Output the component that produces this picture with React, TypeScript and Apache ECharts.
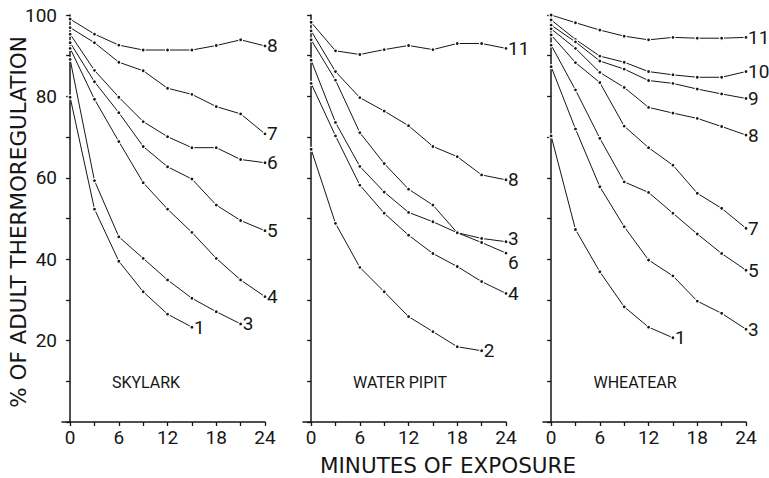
import React, { useEffect, useRef } from "react";
import * as echarts from "echarts";

// Minutes of exposure at which readings were taken
const minutes = [0, 3, 6, 9, 12, 15, 18, 21, 24];

// SKYLARK (curve label = age in days)
const sk8 = [99.0, 95.3, 92.6, 91.4, 91.4, 91.4, 92.5, 93.9, 92.4];
const sk7 = [96.9, 93.2, 88.4, 86.3, 82.0, 80.5, 77.5, 75.7, 70.8];
const sk6 = [95.3, 86.4, 79.8, 73.8, 70.1, 67.4, 67.4, 64.5, 63.7];
const sk5 = [93.2, 83.6, 76.0, 67.7, 62.7, 59.7, 53.3, 49.5, 47.0];
const sk4 = [91.8, 79.3, 68.9, 58.8, 52.3, 46.6, 40.2, 34.9, 30.8];
const sk3 = [89.1, 59.3, 45.5, 40.2, 34.9, 30.4, 27.1, 24.1];
const sk1 = [79.8, 52.3, 39.5, 32.0, 26.5, 23.3];

// WATER PIPIT
const wp11 = [98.2, 91.2, 90.3, 91.5, 92.5, 91.5, 93.0, 93.0, 91.8];
const wp8 = [96.1, 86.1, 79.7, 76.4, 72.8, 67.7, 65.2, 60.7, 59.5];
const wp6 = [93.9, 84.0, 71.1, 63.5, 57.2, 53.3, 46.5, 44.1, 41.5];
const wp3 = [88.9, 73.6, 62.8, 56.5, 51.5, 49.2, 46.5, 45.1, 44.3];
const wp4 = [83.2, 70.3, 58.2, 51.3, 45.9, 41.4, 38.2, 34.5, 31.6];
const wp2 = [67.0, 48.8, 38.0, 32.0, 25.9, 22.2, 18.5, 17.5];

// WHEATEAR
const wh11 = [100, 98.1, 96.3, 94.8, 93.9, 94.5, 94.3, 94.3, 94.5];
const wh10 = [98.8, 94.0, 89.9, 88.4, 86.1, 85.3, 84.7, 84.7, 86.1];
const wh9 = [97.5, 93.4, 88.7, 86.7, 83.9, 83.2, 81.8, 80.6, 79.5];
const wh8 = [96.6, 91.8, 85.9, 82.2, 77.3, 75.9, 74.6, 72.6, 70.5];
const wh7 = [95.1, 88.3, 83.4, 72.7, 67.4, 63.1, 56.2, 52.5, 47.6];
const wh5 = [92.6, 81.6, 69.7, 59.0, 56.4, 51.3, 46.2, 41.4, 37.3];
const wh3 = [87.3, 72.0, 57.8, 48.0, 39.8, 35.9, 29.7, 26.7, 22.8];
const wh1 = [70.3, 47.3, 36.9, 28.3, 23.3, 20.7];

const panelNames = ["SKYLARK", "WATER PIPIT", "WHEATEAR"];
const panels: { name: string; values: number[] }[][] = [
  [
    { name: "8", values: sk8 },
    { name: "7", values: sk7 },
    { name: "6", values: sk6 },
    { name: "5", values: sk5 },
    { name: "4", values: sk4 },
    { name: "3", values: sk3 },
    { name: "1", values: sk1 },
  ],
  [
    { name: "11", values: wp11 },
    { name: "8", values: wp8 },
    { name: "6", values: wp6 },
    { name: "3", values: wp3 },
    { name: "4", values: wp4 },
    { name: "2", values: wp2 },
  ],
  [
    { name: "11", values: wh11 },
    { name: "10", values: wh10 },
    { name: "9", values: wh9 },
    { name: "8", values: wh8 },
    { name: "7", values: wh7 },
    { name: "5", values: wh5 },
    { name: "3", values: wh3 },
    { name: "1", values: wh1 },
  ],
];

const xTicks = [0, 3, 6, 9, 12, 15, 18, 21, 24];
const xLabels = [0, 6, 12, 18, 24];
const yLabels = [20, 40, 60, 80, 100];

const xTitle = "MINUTES OF EXPOSURE";
const yTitle = "% OF ADULT THERMOREGULATION";

const FONT = "Roboto, 'DejaVu Sans', sans-serif";
const TITLE_FONT = "'DejaVu Sans', Roboto, sans-serif";
const INK = "#161616";

export default function App() {
  const ref = useRef<HTMLDivElement>(null);

  useEffect(() => {
    if (!ref.current) return;
    const chart = echarts.init(ref.current, undefined, { renderer: "svg" });

    const lefts = [62, 303, 543];
    const grid = lefts.map((l) => ({ left: l, width: 203, top: 15, height: 407 }));

    const xAxis = lefts.map((_, i) => ({
      type: "value",
      gridIndex: i,
      min: -1,
      max: 24,
      axisLine: { show: true, lineStyle: { color: INK, width: 1.5 } },
      axisTick: {
        show: true,
        customValues: xTicks,
        length: 4,
        lineStyle: { color: INK, width: 1.3 },
      },
      axisLabel: {
        show: true,
        customValues: xLabels,
        color: INK,
        fontSize: 19,
        fontFamily: FONT,
        margin: 6,
      },
      splitLine: { show: false },
    }));

    const yAxis = lefts.map((_, i) => ({
      type: "value",
      gridIndex: i,
      min: 0,
      max: 100,
      interval: 10,
      axisLine: { show: true, lineStyle: { color: INK, width: 1.5 } },
      axisTick: { show: true, length: 4, lineStyle: { color: INK, width: 1.3 } },
      axisLabel: {
        show: i === 0,
        color: INK,
        fontSize: 19,
        fontFamily: FONT,
        margin: 5,
        formatter: (v: number) => (yLabels.includes(v) ? String(v) : ""),
      },
      splitLine: { show: false },
    }));

    const labelOffset = (pi: number, name: string) => {
      if (pi === 1 && name === "6") return [0, 9];
      if (pi === 1 && name === "3") return [0, -3];
      return [0, 0];
    };

    const series: any[] = [];
    panels.forEach((curves, pi) => {
      curves.forEach((c) => {
        series.push({
          type: "line",
          name: panelNames[pi] + " " + c.name,
          xAxisIndex: pi,
          yAxisIndex: pi,
          data: c.values.map((v, k) => [minutes[k], v]),
          symbol: "circle",
          symbolSize: 4,
          showSymbol: true,
          clip: false,
          lineStyle: { color: INK, width: 1 },
          itemStyle: { color: INK, borderColor: "#fff", borderWidth: 1.2 },
          endLabel: {
            show: true,
            formatter: () => c.name,
            color: INK,
            fontSize: 19,
            fontFamily: FONT,
            distance: 2,
            offset: labelOffset(pi, c.name),
          },
          emphasis: { disabled: true },
          silent: true,
        });
      });
    });

    const speciesPos = [
      { x: 146, y: 382 },
      { x: 400, y: 382 },
      { x: 635, y: 382 },
    ];

    const graphic: any[] = [
      ...panelNames.map((n, i) => ({
        type: "text",
        x: speciesPos[i].x,
        y: speciesPos[i].y,
        style: {
          text: n,
          fill: INK,
          fontSize: 16,
          fontFamily: FONT,
          align: "center",
          verticalAlign: "middle",
        },
      })),
      {
        type: "text",
        x: 448,
        y: 465,
        style: {
          text: xTitle,
          fill: INK,
          fontSize: 21.5,
          fontFamily: TITLE_FONT,
          align: "center",
          verticalAlign: "middle",
        },
      },
      {
        type: "text",
        x: 18,
        y: 222,
        rotation: Math.PI / 2,
        style: {
          text: yTitle,
          fill: INK,
          fontSize: 21.5,
          fontFamily: TITLE_FONT,
          align: "center",
          verticalAlign: "middle",
        },
      },
    ];

    chart.setOption({
      animation: false,
      backgroundColor: "#fff",
      grid,
      xAxis,
      yAxis,
      series,
      graphic,
    });

    return () => chart.dispose();
  }, []);

  return (
    <div
      ref={ref}
      style={{ position: "fixed", left: 0, top: 0, width: 769, height: 478 }}
    />
  );
}
